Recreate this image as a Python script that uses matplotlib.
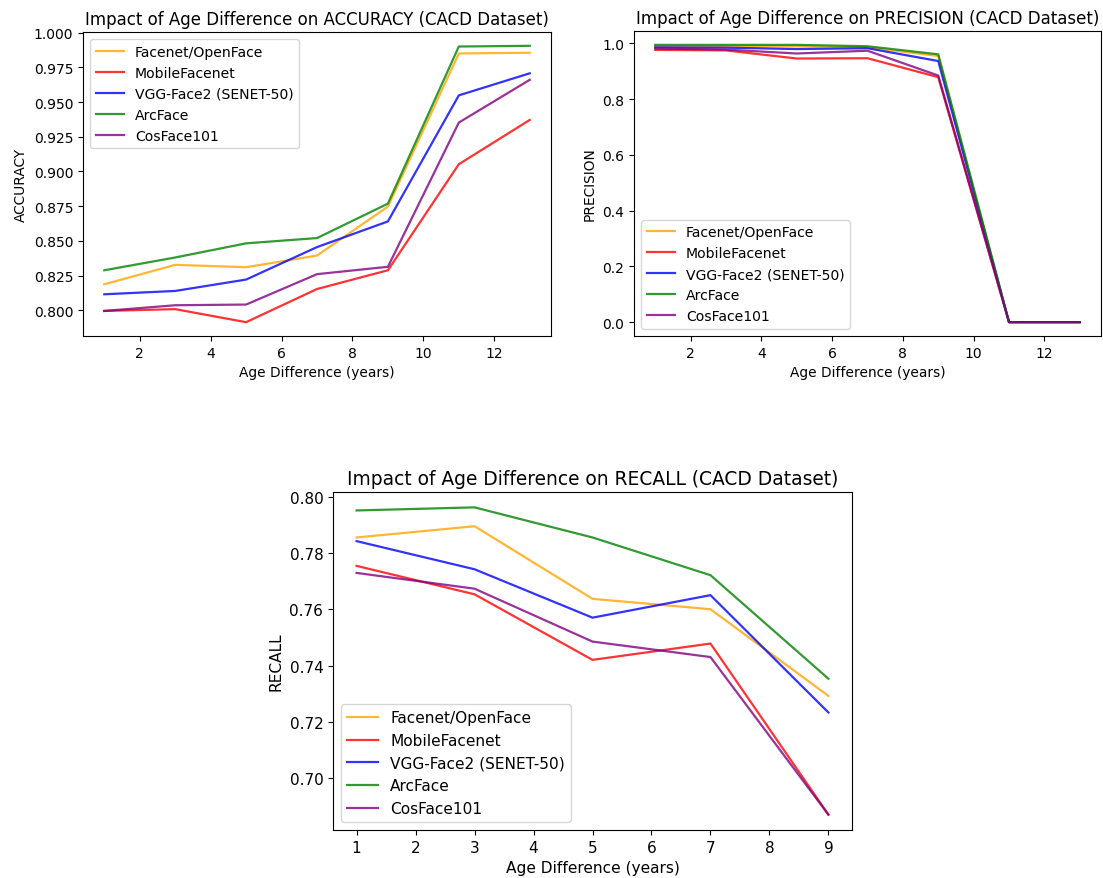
import matplotlib
matplotlib.use("Agg")
import matplotlib.pyplot as plt

# Models and their line colours
models = ["Facenet/OpenFace", "MobileFacenet", "VGG-Face2 (SENET-50)", "ArcFace", "CosFace101"]
colors = ["orange", "red", "blue", "green", "purple"]

# Age-difference buckets (years)
age_diff_full = [1, 3, 5, 7, 9, 11, 13]
age_diff_recall = [1, 3, 5, 7, 9]

# Accuracy per model
acc_facenet = [0.8187, 0.8327, 0.8310, 0.8394, 0.8747, 0.9850, 0.9855]
acc_mobile = [0.7995, 0.8008, 0.7914, 0.8153, 0.8288, 0.9052, 0.9371]
acc_vgg = [0.8115, 0.8139, 0.8221, 0.8455, 0.8640, 0.9548, 0.9707]
acc_arc = [0.8288, 0.8380, 0.8482, 0.8520, 0.8768, 0.9900, 0.9905]
acc_cos = [0.7995, 0.8036, 0.8041, 0.8260, 0.8313, 0.9352, 0.9660]

# Precision per model
prec_facenet = [0.990, 0.990, 0.990, 0.986, 0.955, 0.0, 0.0]
prec_mobile = [0.977, 0.975, 0.946, 0.947, 0.879, 0.0, 0.0]
prec_vgg = [0.986, 0.985, 0.980, 0.983, 0.937, 0.0, 0.0]
prec_arc = [0.995, 0.995, 0.995, 0.990, 0.961, 0.0, 0.0]
prec_cos = [0.982, 0.978, 0.964, 0.974, 0.885, 0.0, 0.0]

# Recall per model
rec_facenet = [0.7855, 0.7895, 0.7637, 0.7600, 0.7292]
rec_mobile = [0.7754, 0.7653, 0.7420, 0.7478, 0.6870]
rec_vgg = [0.7842, 0.7742, 0.7570, 0.7650, 0.7233]
rec_arc = [0.7951, 0.7962, 0.7855, 0.7721, 0.7353]
rec_cos = [0.7729, 0.7673, 0.7485, 0.7430, 0.6870]

accuracy = [acc_facenet, acc_mobile, acc_vgg, acc_arc, acc_cos]
precision = [prec_facenet, prec_mobile, prec_vgg, prec_arc, prec_cos]
recall = [rec_facenet, rec_mobile, rec_vgg, rec_arc, rec_cos]

W, H = 1103, 879
fig = plt.figure(figsize=(W / 100, H / 100), dpi=100)


def box(l, t, r, b):
    return [l / W, 1 - b / H, (r - l) / W, (b - t) / H]


def panel(ax, x, series, metric, legend_loc, fs_title, fs_tick, fs_label, fs_legend):
    for name, col, vals in zip(models, colors, series):
        ax.plot(x, vals, color=col, alpha=0.8, lw=1.6, label=name)
    ax.set_title(f"Impact of Age Difference on {metric} (CACD Dataset)", fontsize=fs_title)
    ax.set_xlabel("Age Difference (years)", fontsize=fs_label)
    ax.set_ylabel(metric, fontsize=fs_label)
    ax.tick_params(labelsize=fs_tick)
    ax.legend(loc=legend_loc, fontsize=fs_legend)


ax1 = fig.add_axes(box(83, 33, 551, 337))
panel(ax1, age_diff_full, accuracy, "ACCURACY", "upper left", 12, 10, 9.9, 10.1)

ax2 = fig.add_axes(box(634, 32, 1101, 337))
panel(ax2, age_diff_full, precision, "PRECISION", "lower left", 12, 10, 9.9, 10.1)

ax3 = fig.add_axes(box(333, 493, 852, 831))
panel(ax3, age_diff_recall, recall, "RECALL", "lower left", 13.4, 11, 11.1, 11.1)
ax3.set_xticks(age_diff_recall + [2, 4, 6, 8])

fig.savefig("out.png", dpi=100)
